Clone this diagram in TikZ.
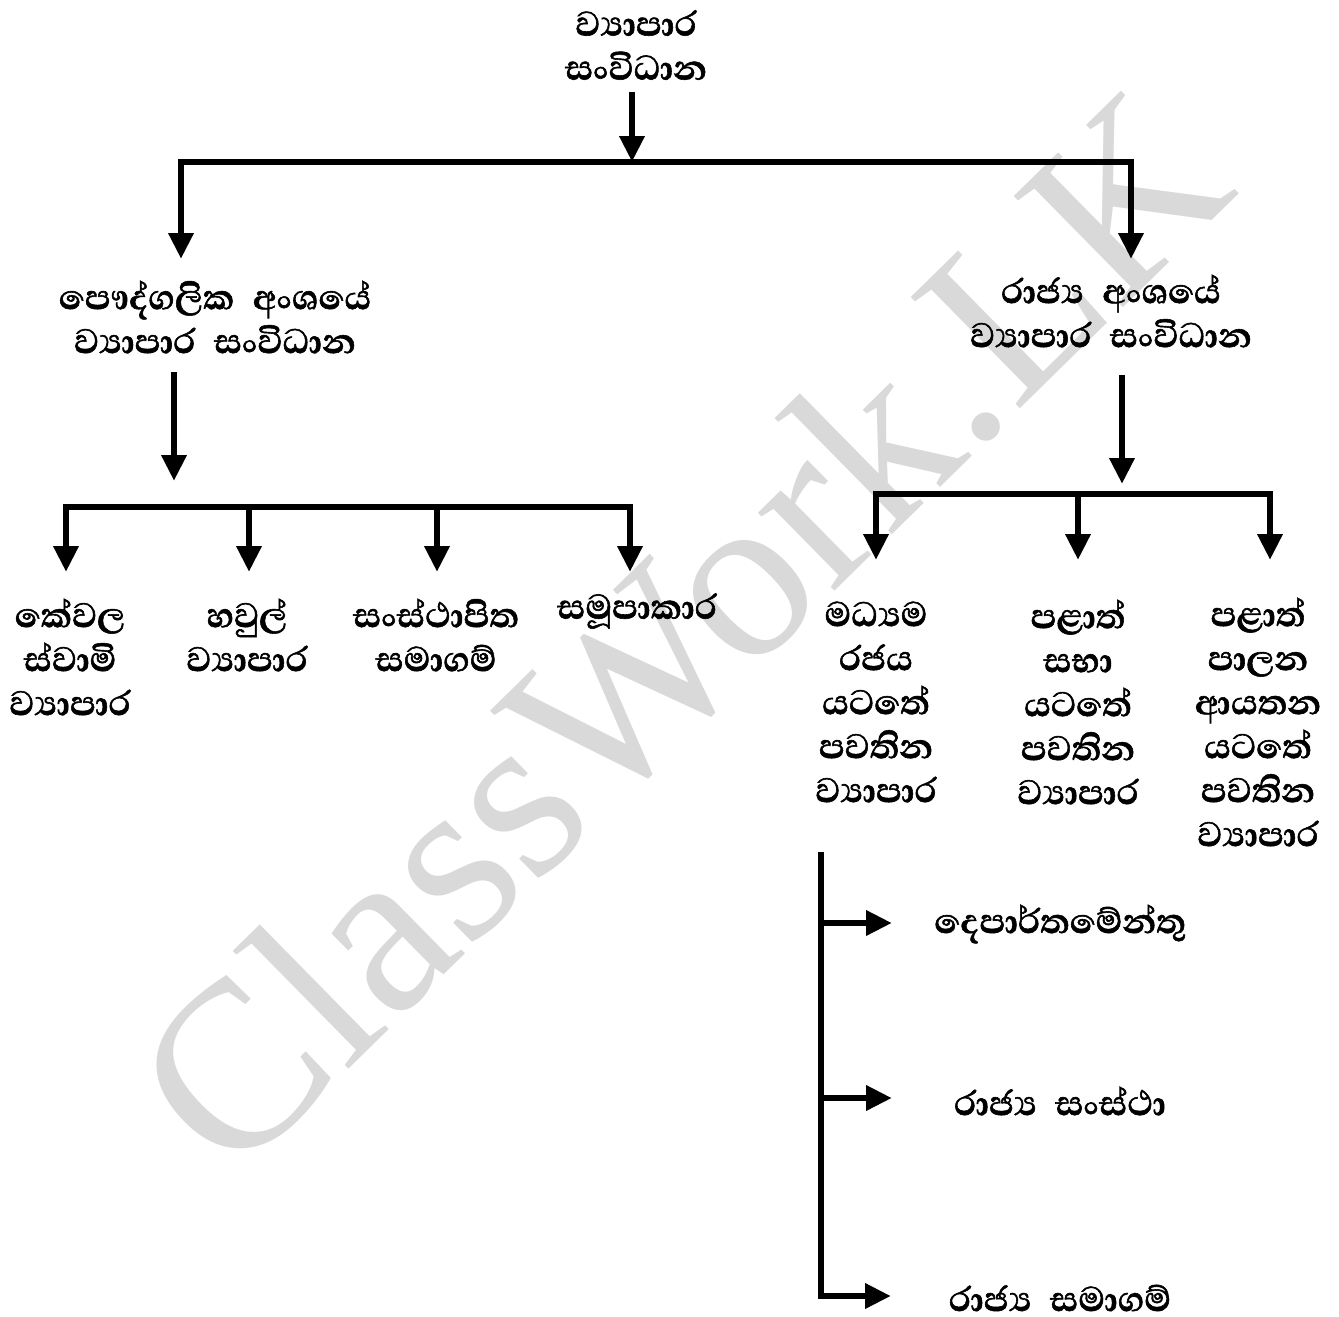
\documentclass[tikz,border=0pt]{standalone}
\usepackage{fontspec}
\setmainfont{Liberation Serif}
\newfontfamily\sinhalafont[Script=Sinhala, WordSpace=2.2, BoldFeatures={FakeBold=1.3}]{Abhaya Libre}
\usetikzlibrary{arrows.meta}
\begin{document}
\begin{tikzpicture}[x=1pt,y=-1pt,
  lbl/.style={font=\sinhalafont\bfseries\fontsize{44}{44}\selectfont, align=center, inner sep=0pt},
  arr/.style={line width=6.5pt, line join=miter, line cap=butt, -{Triangle[width=24pt,length=26pt]}},
  wmark/.style={text=black!15, font=\fontsize{238}{238}\selectfont, inner sep=0pt}
]
\useasboundingbox (0,0) rectangle (1339,1317);
\fill[white] (0,0) rectangle (1339,1317);
% watermark
\node[wmark, rotate=44.5] (wm) at (680,630) {ClassWork.LK};

% nodes
\node[lbl] (top) at (636,45) {ව්^^^^200dයාපාර\\සංවිධාන};
\node[lbl] (priv) at (215,317) {පෞද්ගලික අංශයේ\\ව්^^^^200dයාපාර සංවිධාන};
\node[lbl] (pub) at (1111,311) {රාජ්^^^^200dය අංශයේ\\ව්^^^^200dයාපාර සංවිධාන};
\node[lbl] (k1) at (70,657) {කේවල\\ස්වාමි\\ව්^^^^200dයාපාර};
\node[lbl] (k2) at (247,635) {හවුල්\\ව්^^^^200dයාපාර};
\node[lbl] (k3) at (436,635) {සංස්ථාපිත\\සමාගම්};
\node[lbl] (k4) at (637,611) {සමූපාකාර};
\node[lbl] (r1) at (876,702) {මධ්^^^^200dයම\\රජය\\යටතේ\\පවතින\\ව්^^^^200dයාපාර};
\node[lbl] (r2) at (1078,702) {පළාත්\\සභා\\යටතේ\\පවතින\\ව්^^^^200dයාපාර};
\node[lbl] (r3) at (1258,722) {පළාත්\\පාලන\\ආයතන\\යටතේ\\පවතින\\ව්^^^^200dයාපාර};
\node[lbl] (g1) at (1060,924) {දෙපාර්තමේන්තු};
\node[lbl] (g2) at (1060,1101) {රාජ්^^^^200dය සංස්ථා};
\node[lbl] (g3) at (1060,1298) {රාජ්^^^^200dය සමාගම්};

% junction coordinates
\coordinate (t0) at (632,92);
\coordinate (j0) at (632,162);
\coordinate (privtip) at (181,259);
\coordinate (pubtip) at (1131,259);
\coordinate (p0) at (174,372);
\coordinate (p1) at (174,481);
\coordinate (jl) at (174,507);
\coordinate (k1tip) at (66,572);
\coordinate (k2tip) at (249,572);
\coordinate (k3tip) at (437,572);
\coordinate (k4tip) at (630,572);
\coordinate (q0) at (1122,375);
\coordinate (q1) at (1122,484);
\coordinate (jr) at (1122,494);
\coordinate (r1tip) at (876,560);
\coordinate (r2tip) at (1078,560);
\coordinate (r3tip) at (1270,560);
\coordinate (v0) at (821,852);
\coordinate (v1) at (821,923);
\coordinate (v2) at (821,1098);
\coordinate (g1tip) at (892,923);
\coordinate (g2tip) at (892,1098);
\coordinate (g3tip) at (891,1296);

% connectors
\draw[arr] (t0) -- (j0);
\draw[arr] (j0) -| (privtip);
\draw[arr] (j0) -| (pubtip);
\draw[arr] (p0) -- (p1);
\draw[arr] (jl) -| (k1tip);
\draw[arr] (jl) -| (k2tip);
\draw[arr] (jl) -| (k3tip);
\draw[arr] (jl) -| (k4tip);
\draw[arr] (q0) -- (q1);
\draw[arr] (jr) -| (r1tip);
\draw[arr] (jr) -| (r2tip);
\draw[arr] (jr) -| (r3tip);
\draw[arr] (v0) |- (g3tip);
\draw[arr] (v1) -- (g1tip);
\draw[arr] (v2) -- (g2tip);
\end{tikzpicture}
\end{document}
